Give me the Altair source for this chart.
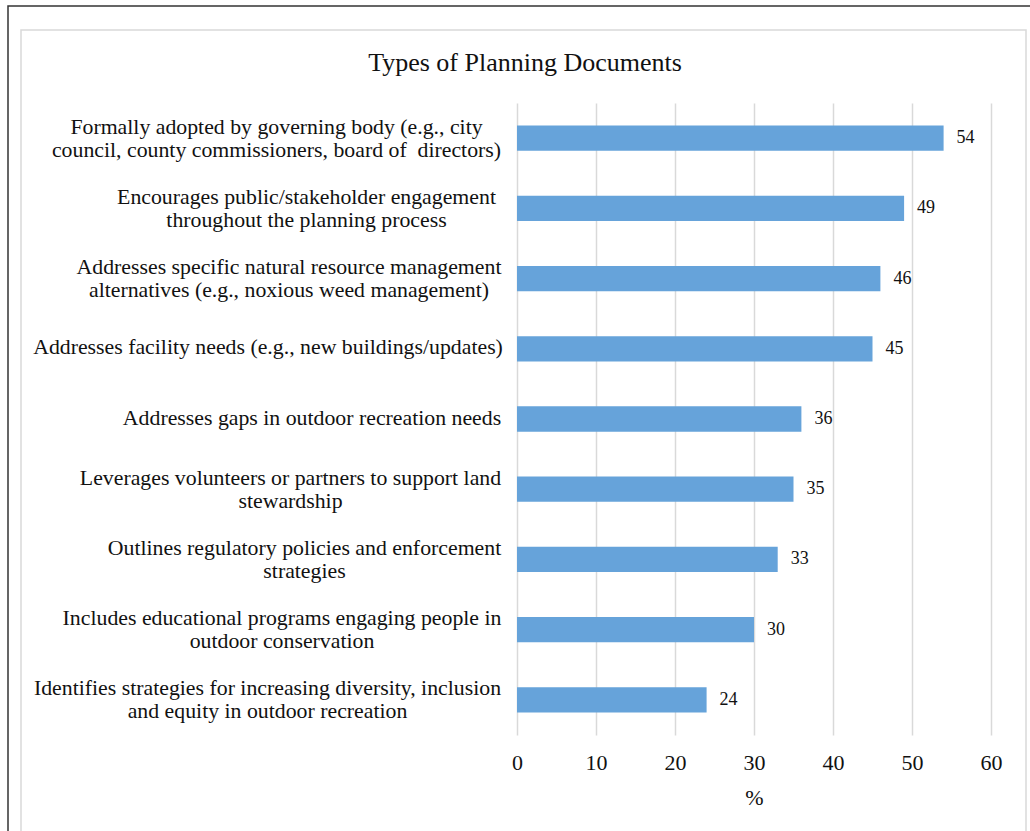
import altair as alt
import pandas as pd

categories = [
    "Formally adopted by governing body (e.g., city|council, county commissioners, board of \u00a0directors)",
    "Encourages public/stakeholder engagement|throughout the planning process",
    "Addresses specific natural resource management|alternatives (e.g., noxious weed management)",
    "Addresses facility needs (e.g., new buildings/updates)",
    "Addresses gaps in outdoor recreation needs",
    "Leverages volunteers or partners to support land|stewardship",
    "Outlines regulatory policies and enforcement|strategies",
    "Includes educational programs engaging people in|outdoor conservation",
    "Identifies strategies for increasing diversity, inclusion|and equity in outdoor recreation",
]
values = [54, 49, 46, 45, 36, 35, 33, 30, 24]
x_ticks = [0, 10, 20, 30, 40, 50, 60]

df = pd.DataFrame({"category": categories, "value": values})
frame_df = pd.DataFrame({"k": [0]})

FONT = "Liberation Serif"
TXT = "#111111"

# style: distance (px) from the axis to the centre of each centred label block
label_center_gap = [241, 211, 228.5, 249.5, 205.5, 227, 213, 235.5, 250]
cat_list_js = "[" + ",".join("'" + c + "'" for c in categories) + "]"
gap_list_js = "[" + ",".join(str(g) for g in label_center_gap) + "]"
padding_expr = f"{gap_list_js}[indexof({cat_list_js}, datum.value)]"

y_enc = alt.Y(
    "category:N",
    sort=categories,
    title=None,
    scale=alt.Scale(paddingInner=0.64, paddingOuter=0.32),
    axis=alt.Axis(
        labelExpr="split(datum.label, '|')",
        labelFont=FONT,
        labelFontSize=21.8,
        labelColor=TXT,
        labelAlign="center",
        labelBaseline=alt.condition(
            "indexof(datum.value, '|') >= 0", alt.value("middle"), alt.value("top")
        ),
        labelOffset=-11.5,
        labelPadding=alt.ExprRef(expr=padding_expr),
        labelLineHeight=23,
        labelLimit=700,
        ticks=False,
        domain=False,
        grid=False,
    ),
)
x_enc = alt.X(
    "value:Q",
    scale=alt.Scale(domain=[0, 60]),
    axis=alt.Axis(
        values=x_ticks,
        title="%",
        titleFont=FONT,
        titleFontSize=22,
        titleFontWeight="normal",
        titleColor=TXT,
        titlePadding=14,
        labelFont=FONT,
        labelFontSize=22,
        labelColor=TXT,
        labelPadding=17,
        labelFlush=False,
        ticks=False,
        domain=False,
        grid=True,
        gridColor="#d9d9d9",
        gridWidth=1.5,
    ),
)

base = alt.Chart(df)
bars = base.mark_bar(color="#66A3DA").encode(x=x_enc, y=y_enc)
labels = base.mark_text(
    align="left", baseline="middle", dx=13, font=FONT, fontSize=18, color=TXT
).encode(
    x=alt.X("value:Q"),
    y=alt.Y("category:N", sort=categories),
    text=alt.Text("value:Q"),
)

outer = alt.Chart(frame_df).mark_rect(
    fill=None, stroke="#333333", strokeWidth=1.5
).encode(
    x=alt.value(-509), x2=alt.value(600), y=alt.value(-97), y2=alt.value(800)
)
inner = alt.Chart(frame_df).mark_rect(
    fill=None, stroke="#d9d9d9", strokeWidth=1.5
).encode(
    x=alt.value(-496), x2=alt.value(509), y=alt.value(-73), y2=alt.value(900)
)

chart = (
    alt.layer(outer, inner, bars, labels)
    .properties(
        width=474,
        height=632,
        autosize="none",
        padding={"left": 517, "top": 103, "right": 39, "bottom": 96},
        background="white",
        title=alt.TitleParams(
            "Types of Planning Documents",
            font=FONT,
            fontSize=26,
            fontWeight="normal",
            color=TXT,
            anchor="middle",
            frame="group",
            dx=-229,
            offset=-91.5,
            baseline="alphabetic",
        ),
    )
    .configure_view(stroke=None)
)

chart.save("out.html", embed_options={"renderer": "svg", "actions": False})
